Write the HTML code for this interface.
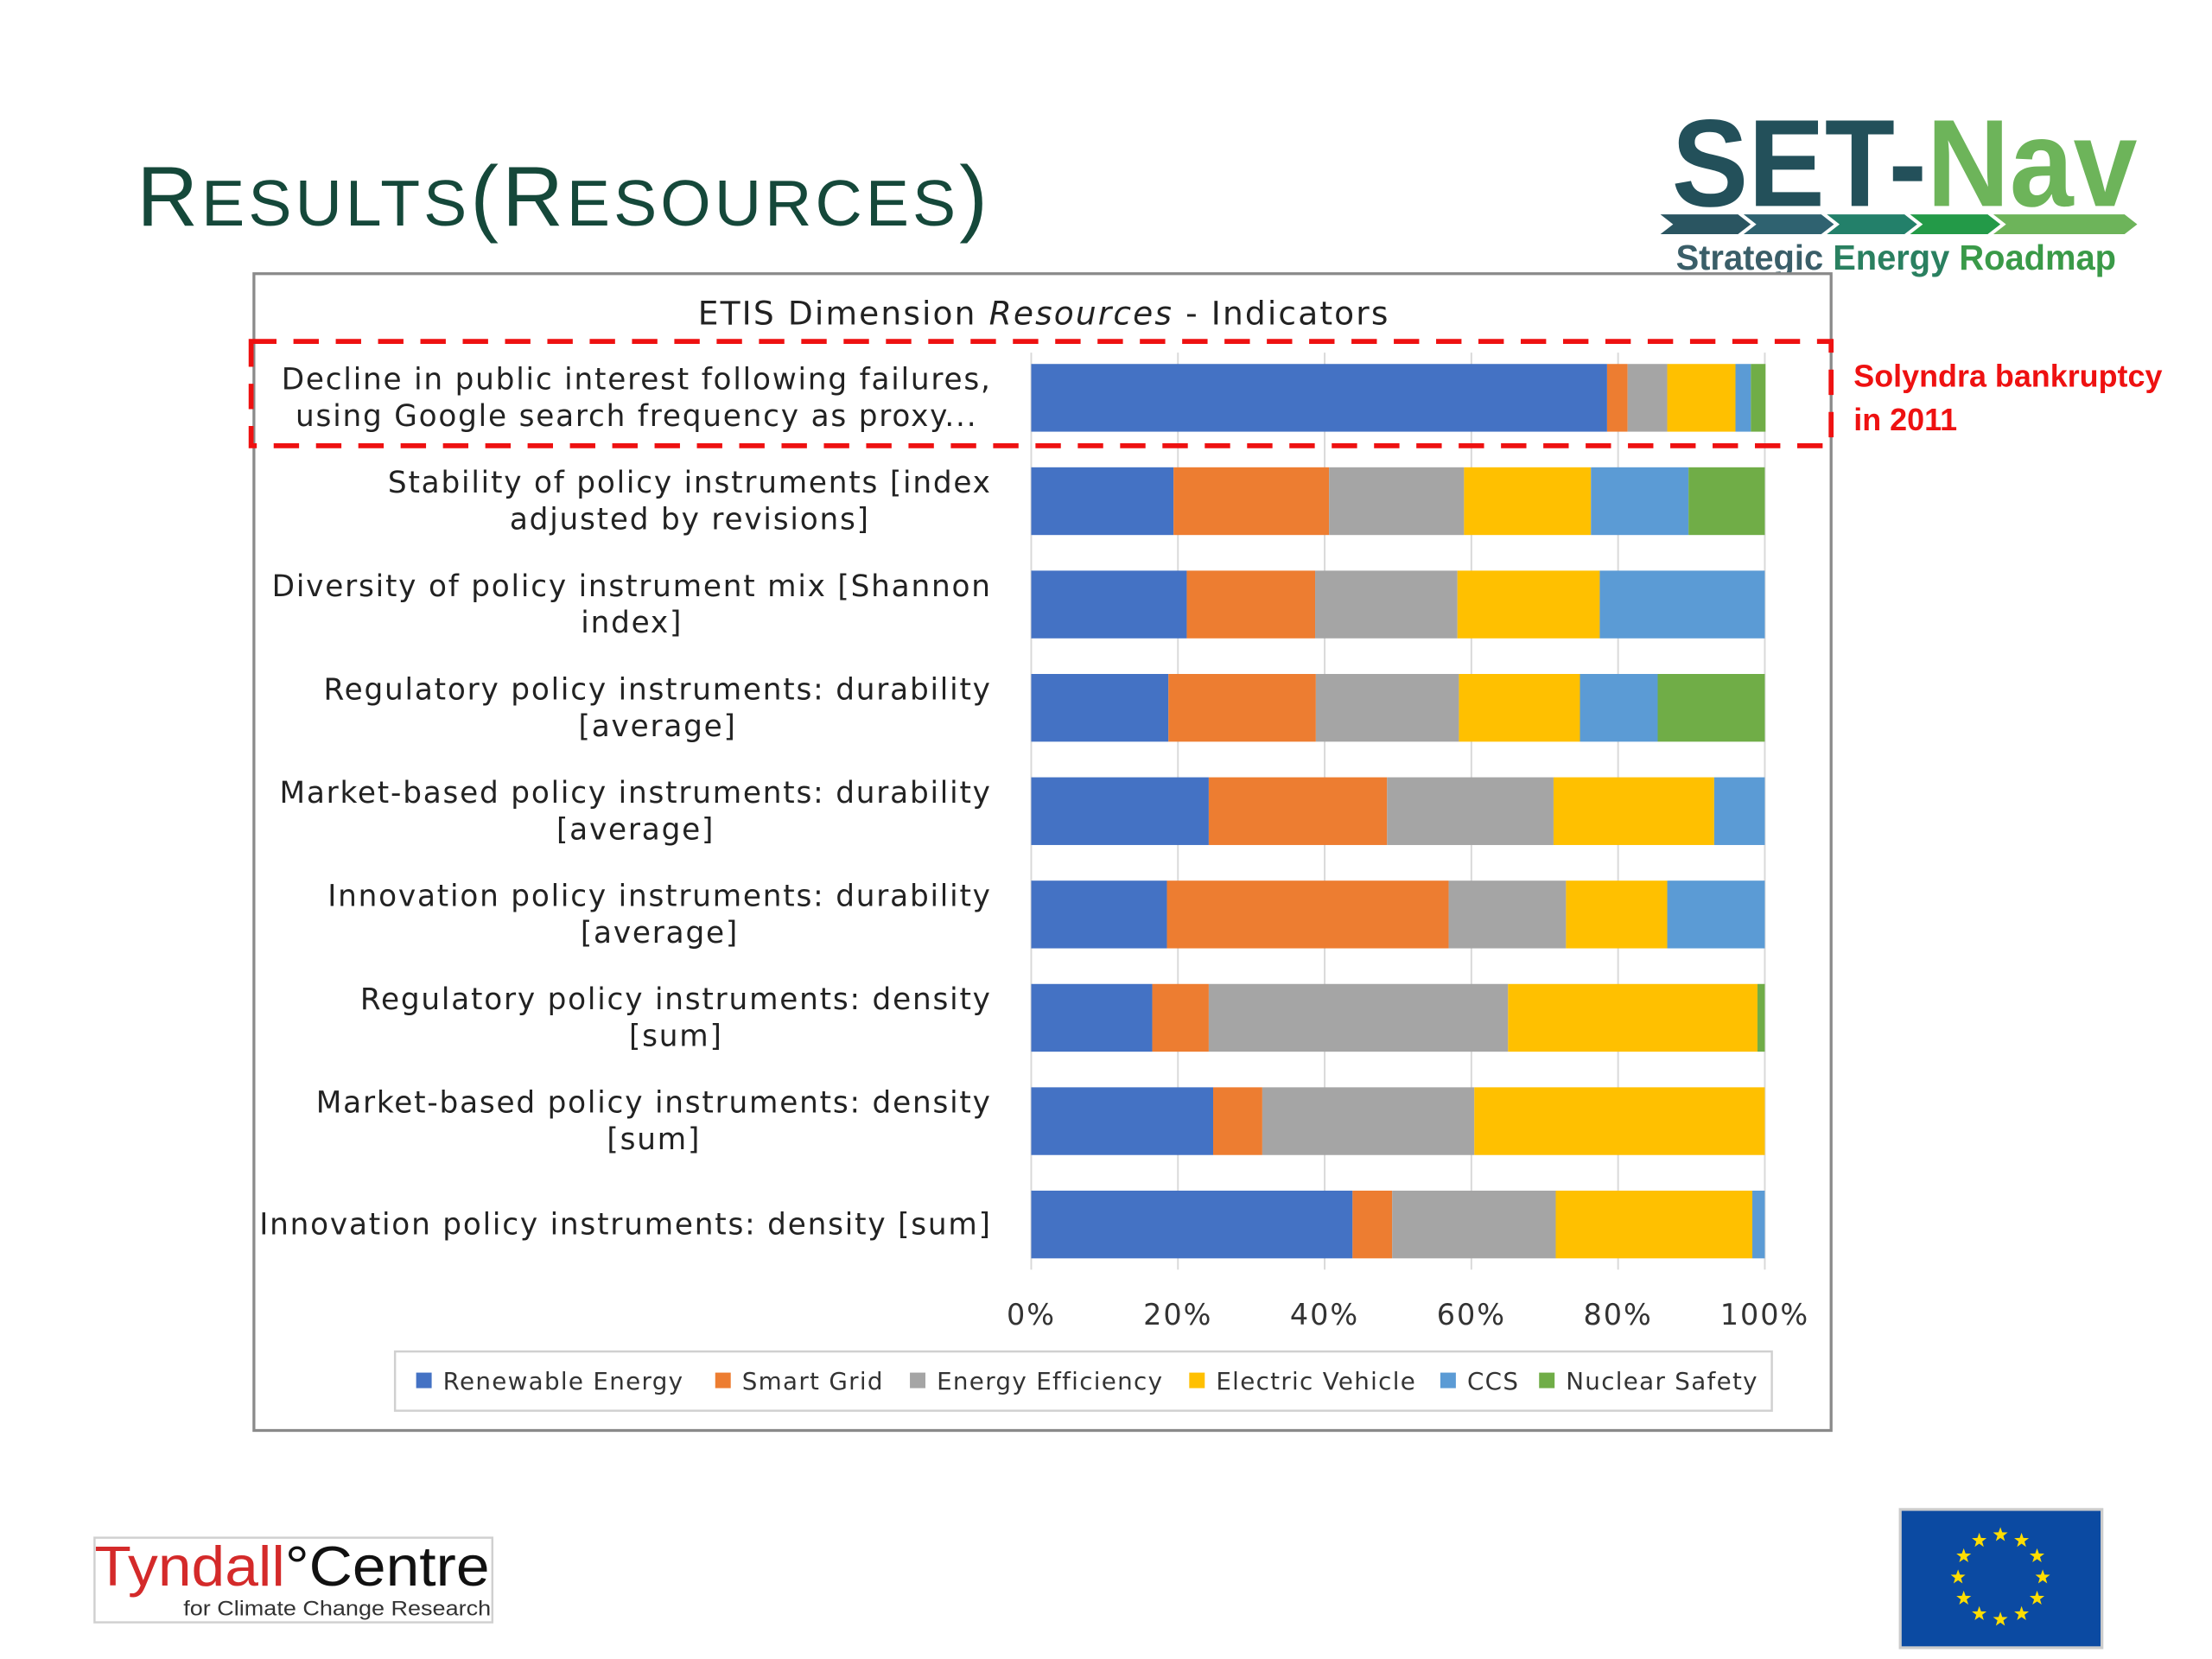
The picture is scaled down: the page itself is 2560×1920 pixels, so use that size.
<!DOCTYPE html>
<html><head><meta charset="utf-8"><style>
html,body{margin:0;padding:0;background:#fff;}
svg{display:block;}
</style></head><body>
<svg id="s" width="2560" height="1920" viewBox="0 0 1568 1176" preserveAspectRatio="none" xmlns="http://www.w3.org/2000/svg">
<rect x="0" y="0" width="1568" height="1176" fill="#fff"/>
<text x="97" y="160" fill="#15483a" font-family="Liberation Sans, sans-serif" textLength="603" lengthAdjust="spacing"><tspan font-size="60">R</tspan><tspan font-size="46">ESULTS</tspan><tspan font-size="60">(R</tspan><tspan font-size="46">ESOURCES</tspan><tspan font-size="60">)</tspan></text>

<g>
<text x="1185" y="146" font-family="Liberation Sans, sans-serif" font-weight="bold" font-size="88" textLength="330" lengthAdjust="spacingAndGlyphs"><tspan fill="#23505a">SET-</tspan><tspan fill="#6db45a">Nav</tspan></text>
<polygon points="1177,152 1232,152 1241,159 1232,166 1177,166 1186,159" fill="#2a5561"/>
<polygon points="1236,152 1291,152 1300,159 1291,166 1236,166 1245,159" fill="#2f6270"/>
<polygon points="1295,152 1350,152 1359,159 1350,166 1295,166 1304,159" fill="#23806a"/>
<polygon points="1354,152 1409,152 1418,159 1409,166 1354,166 1363,159" fill="#239a48"/>
<polygon points="1413,152 1506,152 1515,159 1506,166 1413,166 1422,159" fill="#6db45a"/>
<text x="1188" y="191" font-family="Liberation Sans, sans-serif" font-weight="bold" font-size="25" textLength="312" lengthAdjust="spacingAndGlyphs"><tspan fill="#3a5e68">Strategic </tspan><tspan fill="#2a8060">Energy </tspan><tspan fill="#3a9a48">Roadmap</tspan></text>
</g>

<rect x="180" y="194" width="1118" height="820" fill="#fff" stroke="#8a8a8a" stroke-width="2"/>
<text x="740" y="230" text-anchor="middle" font-family="DejaVu Sans, sans-serif" font-size="23" letter-spacing="1.3" fill="#222">ETIS Dimension <tspan font-style="italic">Resources</tspan> - Indicators</text>
<g id="grid"></g>
<g id="bars"></g>
<g id="labels"></g>
<g id="ticks"></g>

<rect x="280" y="958" width="976" height="42" fill="#fff" stroke="#d0d0d0" stroke-width="1.5"/>
<g id="legend"></g>

<rect x="178" y="242" width="1120" height="74" fill="none" stroke="#ee1111" stroke-width="3.5" stroke-dasharray="18,12"/>
<text x="1314" y="274" font-family="Liberation Sans, sans-serif" font-weight="bold" font-size="22" fill="#ee1111">Solyndra bankruptcy</text>
<text x="1314" y="305" font-family="Liberation Sans, sans-serif" font-weight="bold" font-size="22" fill="#ee1111">in 2011</text>

<g>
<rect x="67" y="1090" width="282" height="60" fill="#fff" stroke="#d0d0d0" stroke-width="1.5"/>
<text x="67" y="1124" font-family="Liberation Sans, sans-serif" font-size="40" textLength="280" lengthAdjust="spacingAndGlyphs"><tspan fill="#d42a2a">Tyndall</tspan><tspan fill="#111">°Centre</tspan></text>
<text x="130" y="1145" font-family="Liberation Sans, sans-serif" font-size="15" fill="#333" textLength="218" lengthAdjust="spacingAndGlyphs">for Climate Change Research</text>
</g>
<g>
<rect x="1347" y="1070" width="143" height="98" fill="#0b4aa2" stroke="#ccc" stroke-width="2"/>
<g id="stars" fill="#ffdd00"></g>
</g>
</svg>
<script>
const categories=["Decline in public interest following failures,|using Google search frequency as proxy...","Stability of policy instruments [index|adjusted by revisions]","Diversity of policy instrument mix [Shannon|index]","Regulatory policy instruments: durability|[average]","Market-based policy instruments: durability|[average]","Innovation policy instruments: durability|[average]","Regulatory policy instruments: density|[sum]","Market-based policy instruments: density|[sum]","Innovation policy instruments: density [sum]"];
const seriesNames=["Renewable Energy","Smart Grid","Energy Efficiency","Electric Vehicle","CCS","Nuclear Safety"];
const renewable=[78.5,19.4,21.2,18.7,24.2,18.5,16.5,24.8,43.8];
const smartGrid=[2.8,21.2,17.5,20.1,24.3,38.4,7.7,6.7,5.4];
const efficiency=[5.4,18.4,19.4,19.5,22.7,16.0,40.8,28.9,22.3];
const vehicle=[9.3,17.3,19.4,16.5,21.9,13.8,34.0,39.6,26.8];
const ccs=[2.1,13.3,22.5,10.6,6.9,13.3,0,0,1.7];
const nuclear=[2.0,10.4,0,14.6,0,0,1.0,0,0];
const tickLabels=["0%","20%","40%","60%","80%","100%"];
const tickValues=[0,20,40,60,80,100];
const colors=["#4472C4","#ED7D31","#A5A5A5","#FFC000","#5B9BD5","#70AD47"];
const NS="http://www.w3.org/2000/svg";
const X0=731,X1=1251,Y0=282,STEP=73.25,BH=48;
function xs(v){return X0+(X1-X0)*v/100;}
function yc(i){return Y0+STEP*i;}
function mk(t,a,p){const e=document.createElementNS(NS,t);for(const k in a)e.setAttribute(k,a[k]);p.appendChild(e);return e;}
const grid=document.getElementById('grid');
tickValues.forEach((v,i)=>{
 const l=mk('line',{x1:xs(v),x2:xs(v),y1:250,y2:900,stroke:'#d9d9d9','stroke-width':1.2},grid);
 
 
 const t=mk('text',{x:xs(v),y:939,'text-anchor':'middle','font-family':'DejaVu Sans, sans-serif','font-size':20.5,'letter-spacing':1.2,fill:'#333'},document.getElementById('ticks'));
 t.textContent=tickLabels[i];
 
 
});
const series=[renewable,smartGrid,efficiency,vehicle,ccs,nuclear];
const bars=document.getElementById('bars');
categories.forEach((c,i)=>{
 let acc=0;
 series.forEach((s,j)=>{
  const v=s[i];if(v<=0)return;
  const r=mk('rect',{x:xs(acc),y:yc(i)-BH/2,width:xs(acc+v)-xs(acc),height:BH,fill:colors[j]},bars);
  
  
  acc+=v;
 });
 const lines=c.split('|');
 const t=mk('text',{'text-anchor':'end','font-family':'DejaVu Sans, sans-serif','font-size':21,'letter-spacing':1.1,fill:'#222'},document.getElementById('labels'));
 
 
 if(lines.length===1){const ts=mk('tspan',{x:703,y:yc(i)+7},t);ts.textContent=lines[0];}
 else{
  const ts1=mk('tspan',{x:703,y:yc(i)-6},t);ts1.textContent=lines[0];
  const ts2=mk('tspan',{x:703,y:yc(i)+20},t);ts2.textContent=lines[1];
 }
});
document.querySelectorAll('#labels text').forEach(t=>{
 const ts=t.querySelectorAll('tspan');
 if(ts.length===2){
  const w1=ts[0].getComputedTextLength(),w2=ts[1].getComputedTextLength();
  ts[1].setAttribute('x',703-(w1-w2)/2);
 }
});
const lg=document.getElementById('legend');
const lx=[295,507,645,843,1021,1091];
seriesNames.forEach((n,j)=>{
 const r=mk('rect',{x:lx[j],y:973,width:11,height:11,fill:colors[j]},lg);
 
 
 const t=mk('text',{x:lx[j]+19,y:985,'font-family':'DejaVu Sans, sans-serif','font-size':17,'letter-spacing':0.8,fill:'#333'},lg);
 t.textContent=n;
 
 
});
const st=document.getElementById('stars');
for(let k=0;k<12;k++){
 const a=k*Math.PI/6,cx=1418+30*Math.sin(a),cy=1118-30*Math.cos(a);
 let p=[];for(let m=0;m<10;m++){const r=m%2?2.2:5.5,b=m*Math.PI/5;p.push((cx+r*Math.sin(b)).toFixed(1)+','+(cy-r*Math.cos(b)).toFixed(1));}
 const s=mk('polygon',{points:p.join(' ')},st);
 
 
}
</script>
</body></html>
